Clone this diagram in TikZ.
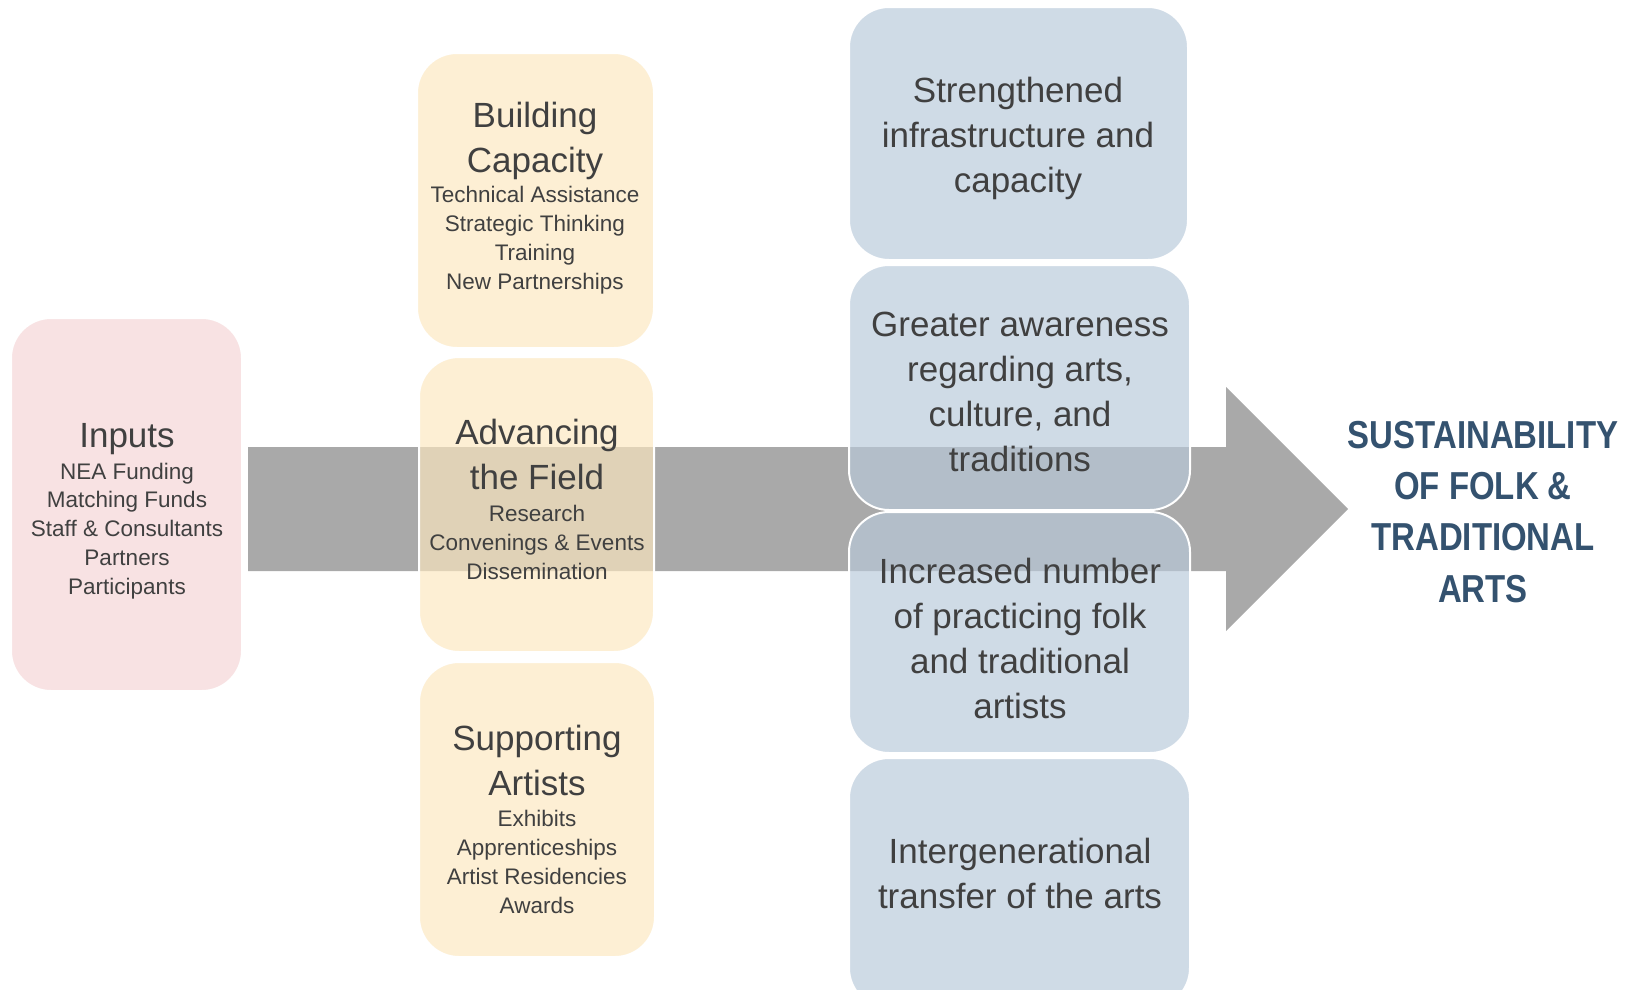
\documentclass[tikz,border=0pt]{standalone}
\usepackage{fontspec}
\setmainfont{Liberation Sans}
\newfontfamily\titlefont[FakeStretch=0.845]{Liberation Sans}
\definecolor{inputpink}{RGB}{248,226,227}
\definecolor{activity}{RGB}{252,231,191}
\definecolor{outcome}{RGB}{184,201,218}
\definecolor{flowgray}{RGB}{169,169,169}
\definecolor{ink}{RGB}{64,64,64}
\definecolor{goalblue}{RGB}{52,82,111}
\begin{document}
% text nodes are anchored at the baseline of their last line
\begin{tikzpicture}[x=1pt,y=-1pt,
  box/.style={rectangle, rounded corners=40pt, draw=white, line width=2pt, inner sep=0pt},
  inbox/.style={box, fill=inputpink},
  actbox/.style={box, fill=activity, fill opacity=0.67},
  outbox/.style={box, fill=outcome, fill opacity=0.67},
  head/.style={anchor=base, align=center, inner sep=0pt, text=ink, font=\fontsize{35}{45}\selectfont},
  outtext/.style={head, font=\fontsize{35}{44.7}\selectfont},
  item/.style={anchor=base, align=center, inner sep=0pt, text=ink, font=\fontsize{22.5}{28.7}\selectfont},
  goal/.style={anchor=base, align=center, inner sep=0pt, text=goalblue, font=\titlefont\bfseries\fontsize{39}{51.3}\selectfont}]
\useasboundingbox (0,0) rectangle (1634,989);
\clip (0,0) rectangle (1634,989);

% the broad flow arrow running behind the columns
\fill[flowgray] (248,447) -- (1226,447) -- (1226,387) -- (1348,509)
  -- (1226,631) -- (1226,571) -- (248,571) -- cycle;

% inputs
\node[inbox, minimum width=231pt, minimum height=373pt] (inputs) at (126.5,504.5) {};
\node[head] (inputsT) at (127,447) {Inputs};
\node[item] (inputsL) at (127,594) {NEA Funding\\Matching Funds\\Staff \& Consultants\\Partners\\Participants};

% activities
\node[actbox, minimum width=237pt, minimum height=295pt] (capacity) at (535.5,200.5) {};
\node[actbox, minimum width=235pt, minimum height=295pt] (field) at (536.5,504.5) {};
\node[actbox, minimum width=236pt, minimum height=295pt] (artists) at (537,809.5) {};

\node[head] (capacityT) at (535,172) {Building\\Capacity};
\node[item] (capacityL) at (535,289) {Technical Assistance\\Strategic Thinking\\Training\\New Partnerships};
\node[head] (fieldT) at (537,489) {Advancing\\the Field};
\node[item] (fieldL) at (537,579) {Research\\Convenings \& Events\\Dissemination};
\node[head] (artistsT) at (537,795) {Supporting\\Artists};
\node[item] (artistsL) at (537,913) {Exhibits\\Apprenticeships\\Artist Residencies\\Awards};

% outcomes
\node[outbox, minimum width=339pt, minimum height=253pt] (infra) at (1018.5,133.5) {};
\node[outbox, minimum width=341pt, minimum height=245pt] (aware) at (1019.5,387.5) {};
\node[outbox, minimum width=341pt, minimum height=241pt] (practice) at (1019.5,632.5) {};
\node[outbox, minimum width=341pt, minimum height=250pt] (transfer) at (1019.5,883) {};

\node[outtext] (infraT) at (1018,192) {Strengthened\\infrastructure and\\capacity};
\node[outtext] (awareT) at (1020,471) {Greater awareness\\regarding arts,\\culture, and\\traditions};
\node[outtext] (practiceT) at (1020,718) {Increased number\\of practicing folk\\and traditional\\artists};
\node[outtext] (transferT) at (1020,908) {Intergenerational\\transfer of the arts};

% long-term goal
\node[goal] (goal) at (1483,602) {SUSTAINABILITY\\OF FOLK \&\\TRADITIONAL\\ARTS};
\end{tikzpicture}
\end{document}
